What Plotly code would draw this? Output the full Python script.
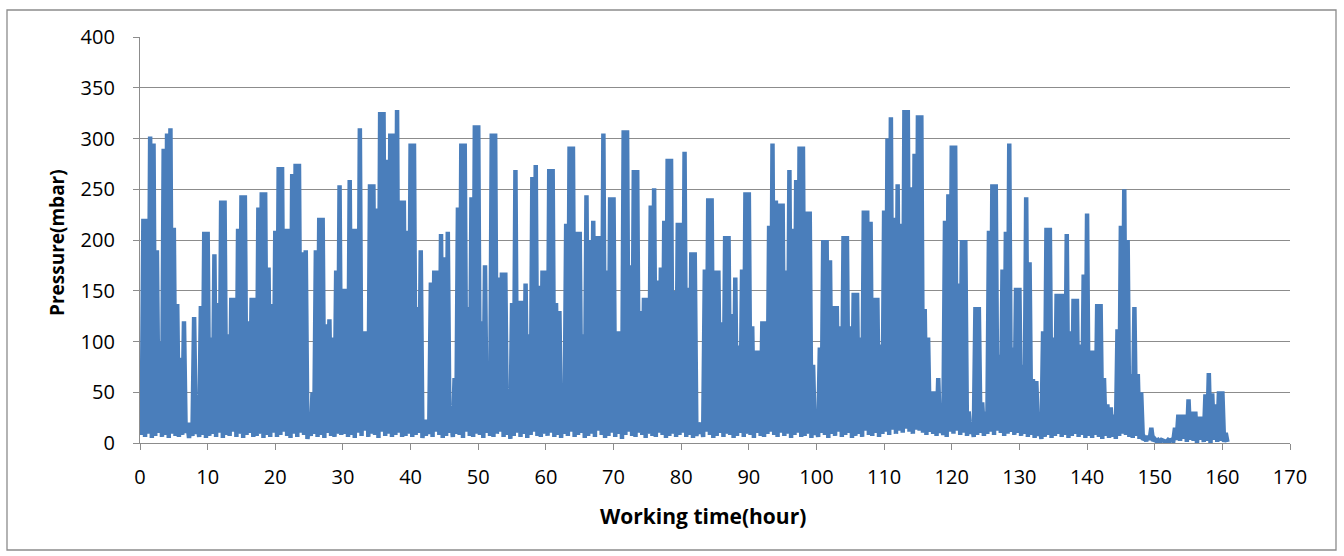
import plotly.graph_objects as go

# Sample spacing of the spiky record (hours between successive peaks)
sample_step_h = 0.5

# Peak pressure (mbar) of each half-hour spike, hour 0 .. 160.5
peaks_000_010 = [30, 221, 221, 302, 295, 190, 100, 290, 305, 310, 212, 137, 84, 120, 20, 20, 124, 20, 135, 208]
peaks_010_020 = [208, 104, 186, 138, 239, 239, 107, 143, 143, 211, 244, 244, 120, 143, 143, 232, 247, 247, 173, 137]
peaks_020_030 = [209, 272, 272, 211, 211, 265, 275, 275, 188, 190, 18, 50, 190, 222, 222, 117, 122, 104, 170, 254]
peaks_030_040 = [152, 152, 259, 211, 211, 310, 110, 110, 255, 255, 231, 326, 326, 279, 305, 305, 328, 239, 239, 209]
peaks_040_050 = [295, 295, 134, 190, 23, 23, 158, 170, 170, 206, 183, 208, 21, 64, 232, 295, 295, 134, 242, 313]
peaks_050_060 = [313, 120, 175, 74, 305, 305, 163, 168, 168, 45, 138, 269, 140, 140, 157, 107, 262, 274, 155, 170]
peaks_060_070 = [170, 270, 270, 138, 130, 50, 216, 292, 292, 208, 208, 107, 244, 200, 219, 204, 204, 305, 170, 242]
peaks_070_080 = [242, 110, 110, 308, 308, 175, 269, 269, 130, 143, 143, 234, 251, 160, 173, 219, 280, 280, 150, 217]
peaks_080_090 = [217, 287, 153, 188, 188, 20, 20, 171, 241, 241, 170, 170, 119, 204, 204, 127, 163, 96, 171, 247]
peaks_090_100 = [247, 115, 91, 91, 120, 120, 214, 295, 239, 236, 236, 170, 269, 211, 259, 292, 292, 228, 228, 77]
peaks_100_110 = [18, 94, 200, 200, 180, 135, 135, 115, 204, 204, 115, 148, 148, 104, 229, 229, 218, 143, 143, 97]
peaks_110_120 = [229, 300, 321, 222, 255, 216, 328, 328, 252, 285, 323, 323, 132, 104, 51, 51, 64, 18, 219, 245]
peaks_120_130 = [293, 293, 157, 200, 200, 31, 18, 134, 134, 40, 31, 209, 255, 255, 87, 171, 208, 295, 94, 153]
peaks_130_140 = [153, 77, 242, 178, 63, 61, 18, 110, 212, 212, 104, 147, 147, 147, 206, 110, 142, 142, 97, 166]
peaks_140_150 = [226, 91, 91, 137, 137, 64, 38, 35, 28, 112, 214, 250, 200, 68, 134, 68, 50, 5, 7, 15]
peaks_150_161 = [4, 3, 3, 2, 3, 3, 15, 28, 28, 28, 43, 31, 31, 26, 26, 48, 69, 49, 38, 51, 51, 10]

# Baseline (trough) pressure between successive spikes (mbar)
troughs_000_010 = [8, 6, 9, 5, 7, 10, 6, 8, 5, 9, 7, 6, 8, 10, 5, 7, 9, 6, 8, 5]
troughs_010_020 = [7, 9, 6, 10, 5, 8, 7, 11, 6, 9, 5, 8, 10, 6, 7, 9, 5, 8, 6, 10]
troughs_020_030 = [6, 8, 11, 7, 5, 9, 6, 10, 8, 4, 7, 9, 6, 8, 5, 10, 7, 6, 9, 8]
troughs_030_040 = [9, 6, 8, 5, 10, 7, 12, 6, 9, 8, 5, 11, 7, 9, 6, 8, 10, 6, 7, 9]
troughs_040_050 = [6, 8, 10, 5, 7, 9, 6, 11, 8, 5, 7, 10, 6, 9, 8, 5, 11, 7, 6, 9]
troughs_050_060 = [8, 5, 10, 7, 6, 9, 11, 6, 8, 4, 7, 10, 6, 9, 5, 8, 11, 7, 6, 9]
troughs_060_070 = [7, 10, 6, 8, 5, 9, 7, 11, 6, 8, 10, 5, 7, 9, 6, 12, 8, 5, 7, 10]
troughs_070_080 = [6, 9, 4, 8, 11, 7, 6, 10, 8, 5, 9, 7, 6, 10, 8, 5, 7, 9, 6, 8]
troughs_080_090 = [10, 6, 8, 5, 7, 9, 6, 11, 8, 5, 7, 10, 6, 9, 8, 5, 7, 10, 6, 9]
troughs_090_100 = [8, 5, 10, 7, 6, 9, 11, 8, 6, 10, 7, 9, 5, 8, 10, 6, 7, 9, 5, 8]
troughs_100_110 = [6, 10, 8, 5, 9, 7, 11, 6, 8, 10, 5, 7, 9, 6, 12, 8, 7, 10, 6, 9]
troughs_110_120 = [11, 8, 13, 9, 12, 10, 14, 11, 9, 13, 12, 10, 8, 11, 9, 7, 10, 8, 6, 11]
troughs_120_130 = [9, 12, 8, 10, 7, 9, 6, 8, 10, 7, 9, 11, 8, 12, 10, 7, 9, 11, 8, 10]
troughs_130_140 = [7, 9, 6, 8, 5, 7, 4, 6, 8, 5, 7, 9, 6, 8, 5, 7, 9, 6, 8, 5]
troughs_140_150 = [7, 5, 8, 6, 4, 7, 5, 6, 4, 7, 9, 8, 6, 5, 7, 4, 3, 2, 3, 2]
troughs_150_161 = [2, 1, 2, 1, 2, 2, 3, 2, 4, 1, 3, 2, 0, 3, 1, 2, 0, 3, 1, 2, 1, 1]

x_tick_values = [0, 10, 20, 30, 40, 50, 60, 70, 80, 90, 100, 110, 120, 130, 140, 150, 160, 170]
y_tick_values = [0, 50, 100, 150, 200, 250, 300, 350, 400]

peaks = (peaks_000_010 + peaks_010_020 + peaks_020_030 + peaks_030_040 + peaks_040_050
         + peaks_050_060 + peaks_060_070 + peaks_070_080 + peaks_080_090 + peaks_090_100
         + peaks_100_110 + peaks_110_120 + peaks_120_130 + peaks_130_140 + peaks_140_150
         + peaks_150_161)
troughs = (troughs_000_010 + troughs_010_020 + troughs_020_030 + troughs_030_040 + troughs_040_050
           + troughs_050_060 + troughs_060_070 + troughs_070_080 + troughs_080_090 + troughs_090_100
           + troughs_100_110 + troughs_110_120 + troughs_120_130 + troughs_130_140 + troughs_140_150
           + troughs_150_161)

hours, pressure = [], []
for i, (p, t) in enumerate(zip(peaks, troughs)):
    h = i * sample_step_h
    hours += [h, h + sample_step_h / 2]
    pressure += [p, t]

W, H = 1344, 556
L, R, T, B = 140, 54, 37, 113
pw, ph = W - L - R, H - T - B

FONT = "'Open Sans', Lato, sans-serif"
GRID = "#8c8c8c"

fig = go.Figure()
fig.add_trace(go.Scatter(
    x=hours, y=pressure, mode="lines",
    line=dict(color="#4A7EBB", width=4.5),
    hoverinfo="skip", showlegend=False,
))

fig.update_layout(
    width=W, height=H,
    margin=dict(l=L, r=R, t=T, b=B, pad=0),
    paper_bgcolor="white", plot_bgcolor="white",
    font=dict(family=FONT, size=20, color="#000000"),
    xaxis=dict(
        range=[0, 170], tickvals=x_tick_values, showgrid=False, zeroline=False,
        showline=True, linecolor=GRID, linewidth=1.3,
        ticks="outside", ticklen=6, tickcolor=GRID, tickwidth=1.3,
        ticklabelstandoff=10, tickfont=dict(size=20),
    ),
    yaxis=dict(
        range=[0, 400], tickvals=y_tick_values, showgrid=True, gridcolor=GRID, gridwidth=1.3,
        zeroline=False, showline=True, linecolor=GRID, linewidth=1.3,
        ticks="outside", ticklen=6, tickcolor=GRID, tickwidth=1.3,
        ticklabelstandoff=14, tickfont=dict(size=20),
    ),
    annotations=[
        dict(text="<b>Working time(hour)</b>", xref="paper", yref="paper",
             x=(703 - L) / pw, y=-(516 - (T + ph)) / ph, xanchor="center", yanchor="middle",
             showarrow=False, font=dict(size=21, family=FONT)),
        dict(text="<b>Pressure(mbar)</b>", xref="paper", yref="paper", textangle=-90,
             x=(57 - L) / pw, y=((T + ph) - 243) / ph, xanchor="center", yanchor="middle",
             showarrow=False, font=dict(size=19, family=FONT)),
    ],
    shapes=[
        dict(type="rect", xref="paper", yref="paper",
             x0=(7 - L) / pw, x1=(1336 - L) / pw,
             y0=((T + ph) - 550) / ph, y1=((T + ph) - 10) / ph,
             line=dict(color="#8c8c8c", width=1.3), fillcolor="rgba(0,0,0,0)", layer="below"),
    ],
)

fig.write_html("out.html")
